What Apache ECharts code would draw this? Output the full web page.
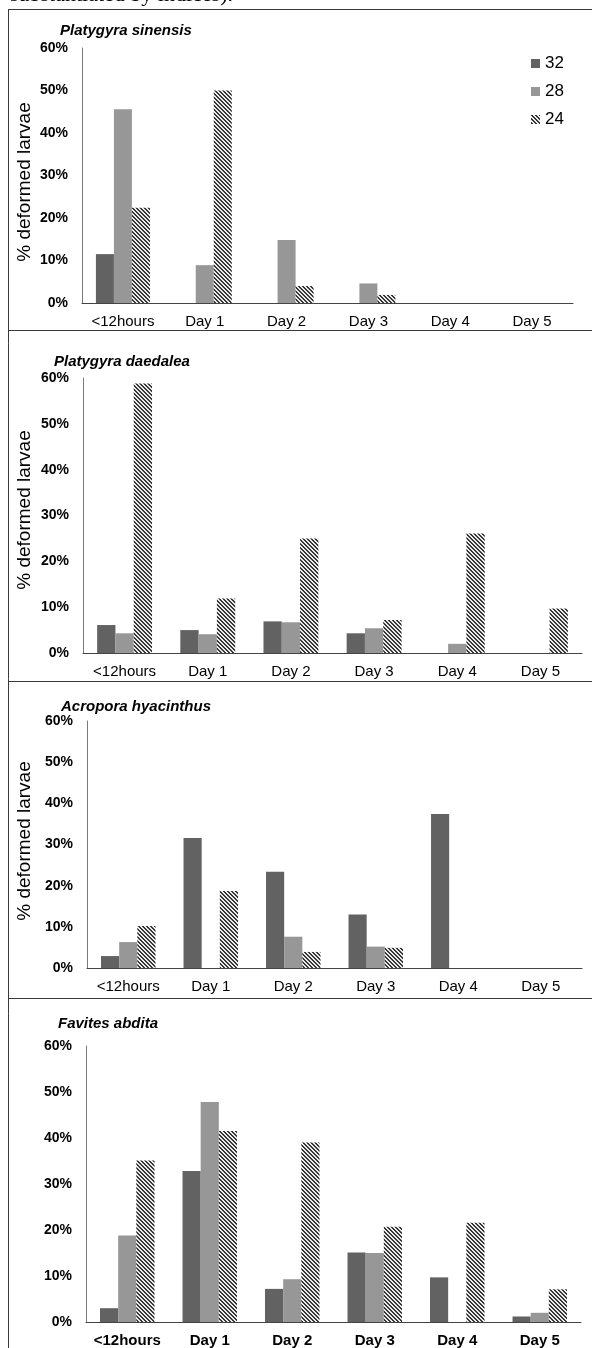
<!DOCTYPE html>
<html>
<head>
<meta charset="utf-8">
<script src="https://cdn.jsdelivr.net/npm/echarts@6/dist/echarts.min.js"></script>
<style>
  html, body { margin: 0; padding: 0; background: #fff; }
  #chart { width: 592px; height: 1348px; }
</style>
</head>
<body>
<div id="chart"></div>
<script>
// Days after fertilisation
const categories = ['<12hours', 'Day 1', 'Day 2', 'Day 3', 'Day 4', 'Day 5'];
// Temperature treatments (°C)
const temps = ['32', '28', '24'];

// % deformed larvae per species and temperature
const sinensis32 = [11.5, 0, 0, 0, 0, 0];
const sinensis28 = [45.6, 8.9, 14.8, 4.6, 0, 0];
const sinensis24 = [22.4, 50.0, 4.0, 1.9, 0, 0];

const daedalea32 = [6.1, 5.0, 6.9, 4.3, 0, 0];
const daedalea28 = [4.3, 4.1, 6.7, 5.4, 2.0, 0];
const daedalea24 = [58.8, 11.9, 25.0, 7.2, 26.1, 9.7];

const hyacinthus32 = [2.9, 31.6, 23.4, 13.0, 37.4, 0];
const hyacinthus28 = [6.3, 0, 7.6, 5.2, 0, 0];
const hyacinthus24 = [10.2, 18.7, 3.9, 4.9, 0, 0];

const abdita32 = [3.0, 32.8, 7.2, 15.1, 9.7, 1.2];
const abdita28 = [18.8, 47.8, 9.3, 15.0, 0, 2.0];
const abdita24 = [35.1, 41.5, 39.0, 20.7, 21.6, 7.1];

const species = ['Platygyra sinensis', 'Platygyra daedalea', 'Acropora hyacinthus', 'Favites abdita'];
const yTitle = '% deformed larvae';

const FONT = "'Liberation Sans', Arial, sans-serif";

// diagonal hatch fill for the 24 °C bars
function hatch() {
  const c = document.createElement('canvas');
  c.width = 4; c.height = 4;
  const ctx = c.getContext('2d');
  const img = ctx.createImageData(4, 4);
  for (let y = 0; y < 4; y++) {
    for (let x = 0; x < 4; x++) {
      const dark = ((x - y + 8) % 4) < 2;
      const v = dark ? 55 : 235;
      const i = (y * 4 + x) * 4;
      img.data[i] = v; img.data[i + 1] = v; img.data[i + 2] = v; img.data[i + 3] = 255;
    }
  }
  ctx.putImageData(img, 0, 0);
  return { image: c, repeat: 'repeat' };
}
const hatchFill = hatch();

const styles = [
  { color: '#626262' },
  { color: '#979797' },
  { color: hatchFill }
];

const panels = [
  { data: [sinensis32, sinensis28, sinensis24], grid: { left: 82, right: 19, top: 48, height: 255 }, bold: false,
    title: [60, 31], ytitle: 182 },
  { data: [daedalea32, daedalea28, daedalea24], grid: { left: 83, right: 10, top: 378, height: 275 }, bold: false,
    title: [54, 362], ytitle: 510 },
  { data: [hyacinthus32, hyacinthus28, hyacinthus24], grid: { left: 87, right: 10, top: 721, height: 247 }, bold: false,
    title: [61, 707], ytitle: 841 },
  { data: [abdita32, abdita28, abdita24], grid: { left: 86, right: 11, top: 1046, height: 276 }, bold: true,
    title: [58, 1024], ytitle: null }
];

const grid = [], xAxis = [], yAxis = [], series = [], graphic = [];

panels.forEach((p, k) => {
  grid.push(p.grid);
  xAxis.push({
    type: 'category', gridIndex: k, data: categories,
    axisTick: { show: false },
    axisLine: { lineStyle: { color: '#444', width: 1 } },
    axisLabel: { margin: 11, fontSize: 15, color: '#000', fontFamily: FONT, fontWeight: p.bold ? 'bold' : 'normal', interval: 0 }
  });
  yAxis.push({
    type: 'value', gridIndex: k, min: 0, max: 60, interval: 10,
    splitLine: { show: false },
    axisTick: { show: false },
    axisLine: { show: true, lineStyle: { color: '#7a7a7a', width: 1 } },
    axisLabel: { margin: 14, fontSize: 14, color: '#000', fontWeight: 'bold', fontFamily: FONT, formatter: '{value}%' }
  });
  p.data.forEach((vals, s) => {
    series.push({
      type: 'bar', name: temps[s], xAxisIndex: k, yAxisIndex: k, data: vals,
      barGap: '0%', barCategoryGap: '34%',
      itemStyle: styles[s],
      emphasis: { disabled: true }
    });
  });
  graphic.push({
    type: 'text', x: p.title[0], y: p.title[1],
    style: { text: species[k], font: 'italic bold 15px ' + FONT, fill: '#000', verticalAlign: 'middle', align: 'left' }
  });
  if (p.ytitle !== null) {
    graphic.push({
      type: 'text', x: 25, y: p.ytitle, rotation: Math.PI / 2,
      style: { text: yTitle, font: '19px ' + FONT, fill: '#000', align: 'center', verticalAlign: 'middle' }
    });
  }
});

// panel frames
const frameLine = (x1, y1, x2, y2) => ({
  type: 'line', silent: true,
  shape: { x1, y1, x2, y2 },
  style: { stroke: '#3a3a3a', lineWidth: 1 }
});
graphic.push(frameLine(8.5, 9, 8.5, 1348));
[9.5, 330.5, 681.5, 998.5].forEach(y => graphic.push(frameLine(8, y, 592, y)));

// caption line running in from above
graphic.push({
  type: 'text', x: 10, y: 6,
  style: { text: 'substantiated by indices).', font: '22px "Liberation Serif", "Times New Roman", serif', fill: '#000', verticalAlign: 'bottom', align: 'left' }
});

const chart = echarts.init(document.getElementById('chart'), null, { renderer: 'canvas' });
chart.setOption({
  animation: false,
  backgroundColor: '#fff',
  textStyle: { fontFamily: FONT },
  legend: {
    data: temps, orient: 'vertical', left: 526, top: 50,
    itemWidth: 9, itemHeight: 9, itemGap: 11, icon: 'rect',
    textStyle: { fontSize: 17, color: '#000', fontFamily: FONT }
  },
  grid, xAxis, yAxis, series, graphic
});
</script>
</body>
</html>
